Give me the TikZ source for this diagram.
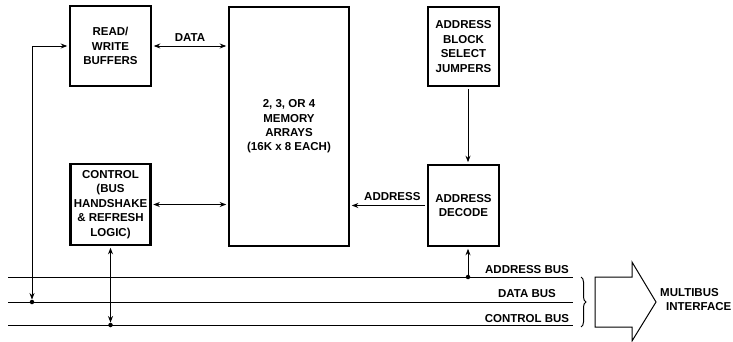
\documentclass[tikz,border=0pt]{standalone}
\usepackage{fontspec}
\setmainfont{Liberation Sans}
\usetikzlibrary{arrows.meta,decorations.pathreplacing}
\begin{document}
\begin{tikzpicture}[x=1pt,y=-1pt,
  blk/.style={draw,line width=2.8pt,align=center,inner sep=0pt,
    font=\bfseries\fontsize{11.5}{14.4}\selectfont},
  conn/.style={line width=0.9pt,-{Stealth[length=6.5pt,width=5pt]}},
  both/.style={line width=0.9pt,{Stealth[length=6.5pt,width=5pt]}-{Stealth[length=6.5pt,width=5pt]}},
  bus/.style={line width=0.9pt},
  lbl/.style={font=\bfseries\fontsize{11.5}{14}\selectfont,inner sep=0pt},
  dot/.style={circle,fill,inner sep=0pt,minimum size=4.5pt}]
\useasboundingbox (0,0) rectangle (733,342);

% blocks
\node[blk,minimum width=81pt,minimum height=80pt] (rw) at (110.5,46) {READ/\\WRITE\\BUFFERS};
\node[blk,minimum width=80pt,minimum height=81pt] (ctl) at (110.5,204.5) {CONTROL\\(BUS\\HANDSHAKE\\\&\ REFRESH\\LOGIC)};
\node[blk,minimum width=120pt,minimum height=239pt] (mem) at (289,126.5) {2, 3, OR 4\\MEMORY\\ARRAYS\\(16K x 8 EACH)};
\node[blk,minimum width=71pt,minimum height=79pt] (jmp) at (463.5,46.5) {ADDRESS\\BLOCK\\SELECT\\JUMPERS};
\node[blk,minimum width=71pt,minimum height=81pt] (dec) at (463.5,205.5) {ADDRESS\\DECODE};

% buses
\coordinate (ab0) at (8,277);   \coordinate (ab1) at (573,277);
\coordinate (db0) at (8,302);   \coordinate (db1) at (573,302);
\coordinate (cb0) at (8,325);   \coordinate (cb1) at (573,325);
\draw[bus] (ab0) -- (ab1);
\draw[bus] (db0) -- (db1);
\draw[bus] (cb0) -- (cb1);
\node[lbl,anchor=base] (abl) at (527,273) {ADDRESS BUS};
\node[lbl,anchor=base] (dbl) at (527,297.7) {DATA BUS};
\node[lbl,anchor=base] (cbl) at (527,322.5) {CONTROL BUS};

% junction dots
\node[dot] (dd) at (32,302) {};
\node[dot] (cd) at (110.5,325) {};
\node[dot] (ad) at (468,277) {};

% connectors
\draw[both,shorten >=1.4pt] (dd.north) |- (rw.west);
\draw[both,shorten <=1.4pt] (ctl.south) -- (cd.north);
\draw[both,shorten <=1.4pt,shorten >=1.4pt] (rw.east) -- (rw.east -| mem.west)
  node[lbl,midway,above=4pt] (datal) {DATA};
\draw[both,shorten <=1.4pt,shorten >=1.4pt] (ctl.east) -- (ctl.east -| mem.west);
\draw[conn,shorten <=1.4pt,shorten >=1.4pt] (jmp.south -| ad) -- (dec.north -| ad);
\draw[conn,shorten <=1.4pt,shorten >=1.4pt] (dec.west) -- (dec.west -| mem.east)
  node[lbl,pos=0.45,above=4pt] (addrl) {ADDRESS};
\draw[conn,shorten >=1.4pt] (ad.center) -- (ad |- dec.south);

% brace and interface arrow
\draw[line width=1pt,decorate,decoration={brace,amplitude=5pt}] (581,277) -- (581,327);
\draw[line width=1pt,line join=miter] (595,277) -- (632,277) -- (632,262) -- (656,302)
  -- (632,341) -- (632,327) -- (595,327) -- cycle;
\node[lbl,anchor=west,align=left] (mbi) at (660,300) {MULTIBUS\\\hspace*{6pt}INTERFACE};
\end{tikzpicture}
\end{document}
